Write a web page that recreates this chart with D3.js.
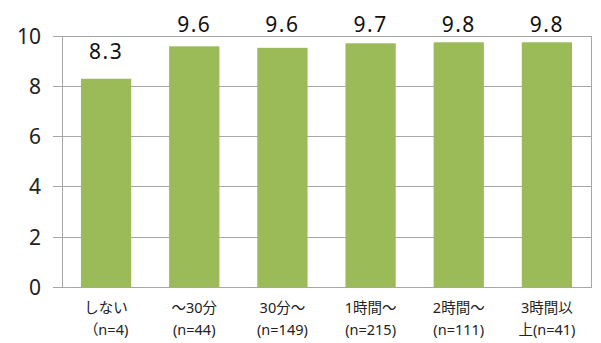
<!DOCTYPE html>
<html><head><meta charset="utf-8">
<script src="https://cdn.jsdelivr.net/npm/d3@7"></script>
<style>body{margin:0;background:#fff}svg{display:block}</style>
</head><body>
<svg id="c" width="601" height="343"></svg>
<script>
const categories = ["しない","～30分","30分～","1時間～","2時間～","3時間以上"];
const labelLine1 = ["しない","～30分","30分～","1時間～","2時間～","3時間以"];
const labelLine2 = ["（n=4)","(n=44)","(n=149)","(n=215)","(n=111)","上(n=41)"];
const values = [8.3, 9.59, 9.53, 9.71, 9.75, 9.75];
const valueLabels = ["8.3","9.6","9.6","9.7","9.8","9.8"];
const yTicks = [0,2,4,6,8,10];

const svg = d3.select("#c");
const m = {l:62, r:10, t:36, b:55.5};
const W = 601, H = 343;
const x = d3.scaleBand().domain(categories).range([m.l, W-m.r]).paddingInner(0.43).paddingOuter(0.215);
const y = d3.scaleLinear().domain([0,10]).range([H-m.b, m.t]);
const font = "'Noto Sans', 'Noto Sans CJK JP', sans-serif";
const gridC = "#A6A6A6";

// gridlines
svg.append("g").selectAll("line").data(yTicks).join("line")
  .attr("x1", m.l-9).attr("x2", W-m.r)
  .attr("y1", d=>y(d)).attr("y2", d=>y(d))
  .attr("stroke", gridC).attr("stroke-width",1).attr("shape-rendering","crispEdges");
// right border
svg.append("line").attr("x1", W-m.r).attr("x2", W-m.r).attr("y1", y(10)).attr("y2", y(0))
  .attr("stroke", gridC).attr("shape-rendering","crispEdges");
// y axis line
svg.append("line").attr("x1", m.l).attr("x2", m.l).attr("y1", y(10)).attr("y2", y(0))
  .attr("stroke", gridC).attr("shape-rendering","crispEdges");

// y tick labels
svg.append("g").selectAll("text").data(yTicks).join("text")
  .attr("x", 41).attr("y", d=>y(d)).attr("dy","0.36em")
  .attr("text-anchor","end").attr("font-family",font).attr("font-size",21).attr("fill","#222")
  .text(d=>d);

// bars
svg.append("g").selectAll("rect").data(values).join("rect")
  .attr("x",(d,i)=>x(categories[i])).attr("width",x.bandwidth())
  .attr("y",d=>y(d)).attr("height",d=>y(0)-y(d))
  .attr("fill","#9BBB59");

// value labels
svg.append("g").selectAll("text").data(values).join("text")
  .attr("x",(d,i)=>x(categories[i])+x.bandwidth()/2)
  .attr("y",d=>Math.max(y(d)-20, 32))
  .attr("text-anchor","middle").attr("font-family",font).attr("font-size",21).attr("fill","#111")
  .attr("letter-spacing", 1.5)
  .text((d,i)=>valueLabels[i]);

// category labels
const cg = svg.append("g").selectAll("text").data(categories).join("text")
  .attr("text-anchor","middle").attr("font-family",font).attr("font-size",14.5).attr("fill","#222");
cg.append("tspan").attr("x",(d)=>x(d)+x.bandwidth()/2).attr("y",313).text((d,i)=>labelLine1[i]);
cg.append("tspan").attr("x",(d)=>x(d)+x.bandwidth()/2).attr("y",335).text((d,i)=>labelLine2[i]);
</script>
</body></html>
